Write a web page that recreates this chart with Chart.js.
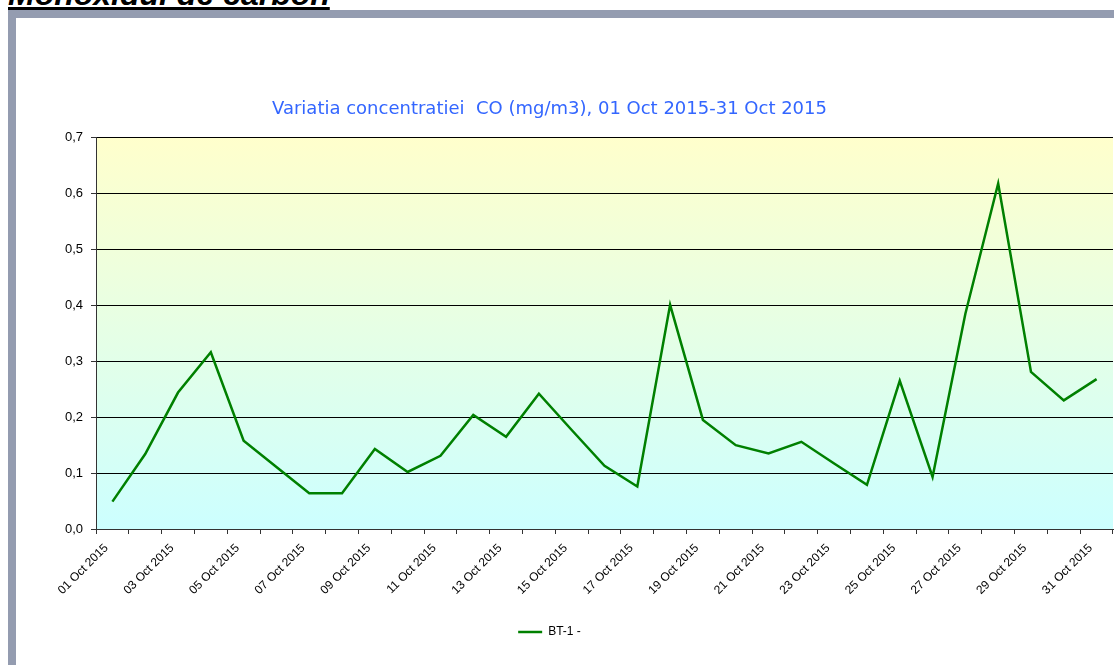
<!DOCTYPE html>
<html lang="ro">
<head>
  <meta charset="UTF-8">
  <title>Monoxidul de carbon</title>
  <script src="https://cdn.jsdelivr.net/npm/chart.js"></script>
  <style>
    html, body { margin: 0; padding: 0; background: #fff; overflow: hidden; }
    body { width: 1114px; height: 665px; position: relative; }
    .heading {
      position: absolute; left: 8px; top: -24px; margin: 0;
      font: italic bold 32px/36px "Liberation Sans", Arial, sans-serif;
      text-decoration: underline; text-decoration-thickness: 3px; color: #000;
      white-space: nowrap;
    }
    .frame {
      position: absolute; left: 8px; top: 10px; width: 1200px; height: 700px;
      border-top: 8px solid #949cb0; border-left: 8px solid #949cb0; background: #fff;
    }
    .chart-box { position: absolute; left: -14px; top: 18px; width: 1128px; height: 647px; }
  </style>
</head>
<body>
  <h2 class="heading">Monoxidul de carbon</h2>
  <div class="frame"></div>
  <div class="chart-box"><canvas id="coChart"></canvas></div>

  <script>
// days of October 2015
const days = ['01 Oct 2015', '02 Oct 2015', '03 Oct 2015', '04 Oct 2015', '05 Oct 2015',
  '06 Oct 2015', '07 Oct 2015', '08 Oct 2015', '09 Oct 2015', '10 Oct 2015',
  '11 Oct 2015', '12 Oct 2015', '13 Oct 2015', '14 Oct 2015', '15 Oct 2015',
  '16 Oct 2015', '17 Oct 2015', '18 Oct 2015', '19 Oct 2015', '20 Oct 2015',
  '21 Oct 2015', '22 Oct 2015', '23 Oct 2015', '24 Oct 2015', '25 Oct 2015',
  '26 Oct 2015', '27 Oct 2015', '28 Oct 2015', '29 Oct 2015', '30 Oct 2015',
  '31 Oct 2015'];

// CO daily values, mg/m3 (station BT-1)
const bt1 = [0.049, 0.134, 0.244, 0.316, 0.158, 0.111, 0.064, 0.064, 0.143, 0.102,
  0.131, 0.204, 0.165, 0.242, 0.177, 0.113, 0.076, 0.401, 0.195, 0.150,
  0.135, 0.156, 0.117, 0.079, 0.265, 0.093, 0.385, 0.618, 0.281, 0.230,
  0.268];

const yTicks = [0, 0.1, 0.2, 0.3, 0.4, 0.5, 0.6, 0.7];

const chartTitle = 'Variatia concentratiei  CO (mg/m3), 01 Oct 2015-31 Oct 2015';
const seriesName = 'BT-1 -';

// yellow -> cyan background behind the plot
const plotBackground = {
  id: 'plotBackground',
  beforeDraw(chart) {
    const { ctx, chartArea: a } = chart;
    const g = ctx.createLinearGradient(0, a.top, 0, a.bottom);
    g.addColorStop(0, '#ffffcc');
    g.addColorStop(1, '#ccffff');
    ctx.save();
    ctx.fillStyle = g;
    ctx.fillRect(a.left, a.top, a.right - a.left, a.bottom - a.top);
    ctx.restore();
  }
};

const ctx = document.getElementById('coChart').getContext('2d');
const coChart = new Chart(ctx, {
  type: 'line',
  data: {
    labels: days,
    datasets: [{
      label: seriesName,
      data: bt1,
      borderColor: '#008000',
      backgroundColor: '#008000',
      borderWidth: 2.5,
      pointRadius: 0,
      tension: 0,
      fill: false
    }]
  },
  options: {
    responsive: true,
    maintainAspectRatio: false,
    animation: false,
    layout: { padding: { left: 0, right: 1, top: 0, bottom: 17 } },
    scales: {
      x: {
        offset: true,
        grid: { offset: true, drawOnChartArea: false, drawTicks: true, tickLength: 5, tickColor: '#333' },
        border: { color: '#333', width: 1 },
        ticks: {
          autoSkip: false,
          minRotation: 45,
          maxRotation: 45,
          padding: 7,
          labelOffset: -6,
          color: '#000',
          font: { family: '"Liberation Sans", Arial, sans-serif', size: 12 },
          callback: function(value, index) {
            return index % 2 === 0 ? this.getLabelForValue(value) : '';
          }
        },
        afterFit(scale) { scale.height = 87; }
      },
      y: {
        min: 0,
        max: 0.7,
        afterBuildTicks(scale) { scale.ticks = yTicks.map(v => ({ value: v })); },
        grid: { color: '#000', lineWidth: 1, tickLength: 5, tickColor: '#333' },
        border: { color: '#333', width: 1 },
        ticks: {
          padding: 8,
          color: '#000',
          font: { family: '"Liberation Sans", Arial, sans-serif', size: 13 },
          callback: v => v.toFixed(1).replace('.', ',')
        },
        afterFit(scale) { scale.width = 110; }
      }
    },
    plugins: {
      title: {
        display: true,
        text: chartTitle,
        color: '#3366ff',
        font: { family: '"DejaVu Sans", Verdana, sans-serif', size: 18, weight: 'normal' },
        padding: { top: 81, bottom: 17 }
      },
      legend: {
        position: 'bottom',
        labels: {
          usePointStyle: true,
          pointStyle: 'line',
          pointStyleWidth: 24,
          padding: 10,
          color: '#000',
          font: { family: '"Liberation Sans", Arial, sans-serif', size: 12 }
        }
      },
      tooltip: { enabled: false }
    }
  },
  plugins: [plotBackground]
});
  </script>
</body>
</html>
